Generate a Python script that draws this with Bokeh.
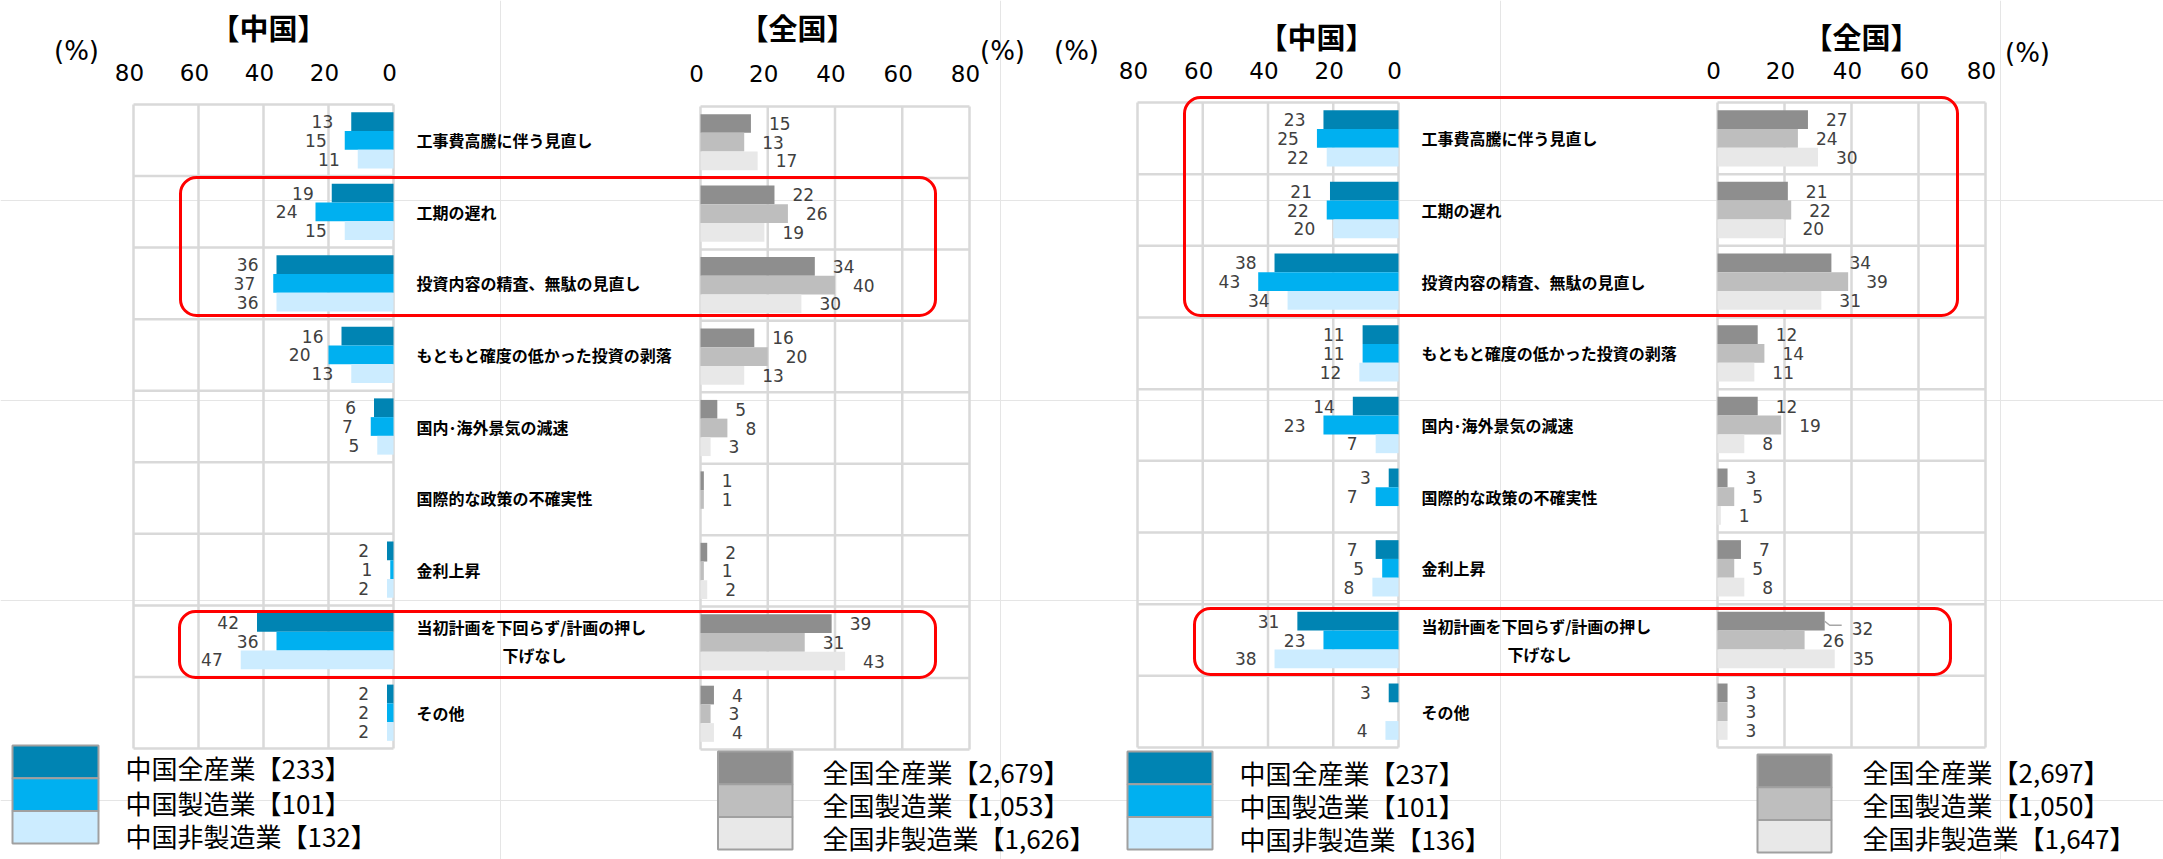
import math
from bokeh.plotting import figure
from bokeh.models import Range1d, ColumnDataSource, BoxAnnotation
from bokeh.core.properties import value
from bokeh.embed import file_html
from bokeh.resources import INLINE

NaN = float("nan")

# ---------------- data ----------------
categories = [
    "工事費高騰に伴う見直し",
    "工期の遅れ",
    "投資内容の精査、無駄の見直し",
    "もともと確度の低かった投資の剥落",
    "国内･海外景気の減速",
    "国際的な政策の不確実性",
    "金利上昇",
    "当初計画を下回らず/計画の押し\n下げなし",
    "その他",
]
ticks = [0, 20, 40, 60, 80]

cn_names = ["中国全産業", "中国製造業", "中国非製造業"]
jp_names = ["全国全産業", "全国製造業", "全国非製造業"]

# left chart
cn_l_all = [13, 19, 36, 16, 6, NaN, 2, 42, 2]
cn_l_mfg = [15, 24, 37, 20, 7, NaN, 1, 36, 2]
cn_l_non = [11, 15, 36, 13, 5, NaN, 2, 47, 2]
jp_l_all = [15, 22, 34, 16, 5, 1, 2, 39, 4]
jp_l_mfg = [13, 26, 40, 20, 8, 1, 1, 31, 3]
jp_l_non = [17, 19, 30, 13, 3, NaN, 2, 43, 4]
cn_l_n = [233, 101, 132]
jp_l_n = [2679, 1053, 1626]

# right chart
cn_r_all = [23, 21, 38, 11, 14, 3, 7, 31, 3]
cn_r_mfg = [25, 22, 43, 11, 23, 7, 5, 23, NaN]
cn_r_non = [22, 20, 34, 12, 7, NaN, 8, 38, 4]
jp_r_all = [27, 21, 34, 12, 12, 3, 7, 32, 3]
jp_r_mfg = [24, 22, 39, 14, 19, 5, 5, 26, 3]
jp_r_non = [30, 20, 31, 11, 8, 1, 8, 35, 3]
cn_r_n = [237, 101, 136]
jp_r_n = [2697, 1050, 1647]

# ---------------- style ----------------
CN_COLORS = ["#0084B3", "#00B0F0", "#CCECFF"]
JP_COLORS = ["#8E8E8E", "#BEBEBE", "#E8E8E8"]
GRID = "#D9D9D9"
JP_FONT = value("Noto Sans CJK JP")
NUM_FONT = value("DejaVu Sans")

W, H = 2163, 859
X0, Y0 = 0, 0  # plot uses picture pixel coordinates

p = figure(width=W, height=H, x_range=Range1d(X0, X0 + W), y_range=Range1d(Y0 + H, Y0),
           x_axis_location=None, y_axis_location=None, output_backend="svg",
           toolbar_location=None, min_border=0, outline_line_color=None)
p.background_fill_color = "white"


def lin_range(va, pa, vb, pb, p_start, p_end):
    k = (pb - pa) / (vb - va)
    return Range1d(start=va + (p_start - pa) / k, end=va + (p_end - pa) / k)


panels = [
    dict(key="cn_l", vals=[cn_l_all, cn_l_mfg, cn_l_non], colors=CN_COLORS, px0=393, px80=133,
         top=104, bottom=748, side=-1, tick_y=72),
    dict(key="jp_l", vals=[jp_l_all, jp_l_mfg, jp_l_non], colors=JP_COLORS, px0=700, px80=969,
         top=106, bottom=749, side=1, tick_y=73),
    dict(key="cn_r", vals=[cn_r_all, cn_r_mfg, cn_r_non], colors=CN_COLORS, px0=1398, px80=1137,
         top=102, bottom=747, side=-1, tick_y=70),
    dict(key="jp_r", vals=[jp_r_all, jp_r_mfg, jp_r_non], colors=JP_COLORS, px0=1717, px80=1985,
         top=102, bottom=747, side=1, tick_y=70),
]
# a label that the original moved aside with a leader line: (panel, series, row) -> (dx px, dy px)
label_shift = {("jp_r", 0, 7): (27, 7)}

nrow = len(categories)
for pn in panels:
    p.extra_x_ranges[pn["key"]] = lin_range(0, pn["px0"], 80, pn["px80"], X0, X0 + W)
    p.extra_y_ranges["r_" + pn["key"]] = lin_range(0, pn["top"], nrow, pn["bottom"], Y0 + H, Y0)

BAR_H = 0.262
for pn in panels:
    xr, yr = pn["key"], "r_" + pn["key"]
    kx = (pn["px80"] - pn["px0"]) / 80.0          # px per unit (signed)
    ky = (pn["bottom"] - pn["top"]) / nrow        # px per row
    # grid
    p.segment(x0=ticks, x1=ticks, y0=[0] * len(ticks), y1=[nrow] * len(ticks),
              line_color=GRID, line_width=2.5, x_range_name=xr, y_range_name=yr)
    rows = list(range(nrow + 1))
    p.segment(x0=[0] * len(rows), x1=[80] * len(rows), y0=rows, y1=rows,
              line_color=GRID, line_width=2.5, x_range_name=xr, y_range_name=yr)
    # bars
    for k, (vals, col) in enumerate(zip(pn["vals"], pn["colors"])):
        ys = [i + 0.5 + (k - 1) * BAR_H for i in range(nrow)]
        src = ColumnDataSource(dict(y=ys, v=vals))
        p.hbar(y="y", left=0, right="v", height=BAR_H, fill_color=col, line_color=None,
               source=src, x_range_name=xr, y_range_name=yr)
    # value labels
    for k, vals in enumerate(pn["vals"]):
        lx, ly, lt = [], [], []
        for i, v in enumerate(vals):
            if isinstance(v, float) and math.isnan(v):
                continue
            yc = i + 0.5 + (k - 1) * BAR_H
            shift = label_shift.get((pn["key"], k, i))
            if shift:
                dx, dy = shift
                # leader line from bar end to the moved label
                p.line(x=[v, v + 5 / kx, v + 17 / kx], y=[yc, yc + 4 / ky, yc + 4 / ky],
                       line_color="#A6A6A6", line_width=1.5, x_range_name=xr, y_range_name=yr)
                lx.append(v + (dx - 18) / kx)
                ly.append(yc + dy / ky)
            else:
                lx.append(v)
                ly.append(yc)
            lt.append(str(int(v)))
        p.text(x=lx, y=ly, text=lt, x_offset=18 * pn["side"],
               text_align="left" if pn["side"] > 0 else "right", text_baseline="middle",
               text_font=NUM_FONT, text_font_size="17px", text_color="#404040",
               x_range_name=xr, y_range_name=yr)
    # tick labels
    p.text(x=ticks, y=[pn["tick_y"]] * len(ticks), text=[str(t) for t in ticks], x_offset=-4,
           text_align="center", text_baseline="middle", text_font=NUM_FONT,
           text_font_size="23px", text_color="#000000", x_range_name=xr)

# category labels (left and right charts)
for key, lab_x in (("cn_l", 416), ("cn_r", 1421)):
    yr = "r_" + key
    sx, sy, st = [], [], []
    for i, c in enumerate(categories):
        parts = c.split("\n")
        if len(parts) == 1:
            sx.append(lab_x); sy.append(i + 0.5); st.append(c)
        else:
            sx.append(lab_x); sy.append(i + 0.5 - 0.196); st.append(parts[0])
            sx.append(lab_x + 86); sy.append(i + 0.5 + 0.196); st.append(parts[1])
    p.text(x=sx, y=sy, text=st, text_align="left", text_baseline="middle",
           text_font=JP_FONT, text_font_style="bold", text_font_size="16px",
           text_color="#000000", y_range_name=yr)

# titles and units
p.text(x=[268, 797, 1316, 1861], y=[26, 26, 35, 35], text=["【中国】", "【全国】", "【中国】", "【全国】"],
       text_align="center", text_baseline="middle", text_font=JP_FONT, text_font_style="bold",
       text_font_size="29px", text_color="#000000")
p.text(x=[76, 1002, 1076, 2027], y=[50, 50, 50, 52], text=["(%)"] * 4,
       text_align="center", text_baseline="middle", text_font=NUM_FONT,
       text_font_size="26px", text_color="#000000")

# legends
legends = [
    (cn_names, cn_l_n, CN_COLORS, 12, 98, 745, 125, [767, 802, 835]),
    (jp_names, jp_l_n, JP_COLORS, 717.5, 792, 751, 822, [771, 804, 837]),
    (cn_names, cn_r_n, CN_COLORS, 1127, 1212, 751, 1239, [772, 805, 838]),
    (jp_names, jp_r_n, JP_COLORS, 1757, 1831, 754, 1862, [771, 804, 837]),
]
EH = 32.7
for names, ns, cols, bl, br, bt, tx, tys in legends:
    tops = [bt + j * EH for j in range(3)]
    p.quad(left=[bl] * 3, right=[br] * 3, top=tops, bottom=[t + EH for t in tops],
           fill_color=cols, line_color="#A0A0A0", line_width=2)
    p.text(x=[tx] * 3, y=tys, text=[f"{nm}【{n:,}】" for nm, n in zip(names, ns)],
           text_align="left", text_baseline="middle", text_font=JP_FONT,
           text_font_size="26px", text_color="#000000")

# red highlight frames
for l, r, t, b in ((180, 935, 177, 315), (179, 935, 611, 677),
                   (1184, 1957, 97, 315), (1194, 1950, 608, 674)):
    p.add_layout(BoxAnnotation(left=l, right=r, top=t, bottom=b, fill_color=None, fill_alpha=0,
                               line_color="#FF0000", line_alpha=1.0, line_width=3,
                               border_radius=16))

open("out.html", "w").write(file_html(p, INLINE))
